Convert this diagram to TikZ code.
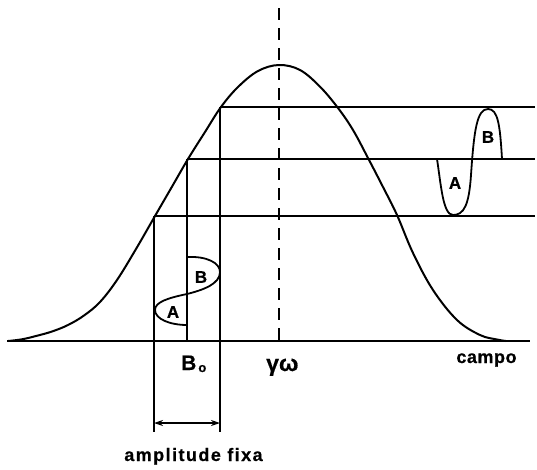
\documentclass[tikz,border=0pt]{standalone}
\usepackage{fontspec}
\setmainfont{Liberation Sans}
\newfontfamily\labfont[LetterSpace=8,FakeBold=0.6]{Liberation Sans Bold}
\newfontfamily\campofont[LetterSpace=3,FakeBold=0.6]{Liberation Sans Bold}
\newfontfamily\heavyfont[FakeBold=0.6]{Liberation Sans Bold}
\usetikzlibrary{arrows.meta}
\tikzset{
  curve/.style={line width=2pt, line join=round, line cap=round},
  grid/.style={line width=1.3pt},
  lobe/.style={line width=1.8pt, line join=round},
  lbl/.style={inner sep=0pt, font=\labfont\fontsize{18}{20}\selectfont},
  lobelbl/.style={inner sep=0pt, font=\heavyfont\fontsize{17}{19}\selectfont},
  dim/.style={line width=1.4pt, {Stealth[length=9pt,width=6pt]}-{Stealth[length=9pt,width=6pt]}}
}
\begin{document}
\begin{tikzpicture}[x=1pt,y=-1pt]
\useasboundingbox (0,0) rectangle (537,469);
% key coordinates
\coordinate (p1) at (154,216);
\coordinate (p2) at (187,159);
\coordinate (p3) at (220,107);
\coordinate (r1) at (535,216);
\coordinate (r2) at (535,159);
\coordinate (r3) at (535,107);
\coordinate (b1) at (154,432);
\coordinate (b2) at (187,341);
\coordinate (b3) at (220,432);
\coordinate (bl) at (7,341);
\coordinate (br) at (530,341);
\coordinate (dt) at (279,8);
\coordinate (db) at (279,341);
\coordinate (al) at (154,423);
\coordinate (ar) at (220,423);
% baseline
\draw[grid] (bl) -- (br);
% dashed axis
\draw[line width=1.5pt, dash pattern=on 12pt off 8pt] (dt) -- (db);
% horizontal lines
\draw[grid] (p1) -- (r1);
\draw[grid] (p2) -- (r2);
\draw[grid] (p3) -- (r3);
% vertical lines
\draw[grid] (p1) -- (b1);
\draw[grid] (p2) -- (b2);
\draw[grid] (p3) -- (b3);
% bell curve
\draw[curve] plot[smooth, tension=0.6] coordinates {
 (8,341) (22,339.3) (36,336) (52,331.5) (68,325) (84,315.5) (100,302) (117,280)
 (136,249) (155,216) (171.5,187.5) (188,159) (205,132) (221,107) (238,87) (258,71)
 (279,65) (300,70) (320,86.7) (338,108) (353,130) (368,158) (383,187) (397,215)
 (413,253) (433,290) (457,320) (480,335) (497,339.5) (506,341)};
% left lobes
\draw[lobe] (187,257) .. controls (207,256) and (220,263) .. (220,272)
  .. controls (220,284) and (203,290) .. (187,294)
  .. controls (168,298) and (155,302) .. (155,310)
  .. controls (155,319) and (170,325) .. (187,325);
\node[lobelbl] (lb) at (201,277) {B};
\node[lobelbl] (la) at (173,312) {A};
% right lobes
\draw[lobe] (437,159) .. controls (441,185) and (443,215) .. (453,215)
  .. controls (464,215) and (469,205) .. (471,175)
  .. controls (474,130) and (477,109) .. (488,109)
  .. controls (498,109) and (500,125) .. (502,159);
\node[lobelbl] (ra) at (455,183) {A};
\node[lobelbl] (rb) at (488,137) {B};
% dimension arrow
\draw[dim] (al) -- (ar);
% labels
\node[inner sep=0pt, anchor=base west, font=\heavyfont\fontsize{21}{24}\selectfont] (bo) at (181,370) {B\hspace{2pt}\raisebox{-2pt}{\fontsize{13}{13}\selectfont o}};
\node[inner sep=0pt, anchor=base west, font=\heavyfont\fontsize{23}{26}\selectfont] (gw) at (266,371) {γω};
\node[inner sep=0pt, anchor=base, font=\campofont\fontsize{18}{20}\selectfont] (campo) at (486.5,363) {campo};
\node[lbl, anchor=base] (amp) at (193.5,461) {amplitude fixa};
\end{tikzpicture}
\end{document}
